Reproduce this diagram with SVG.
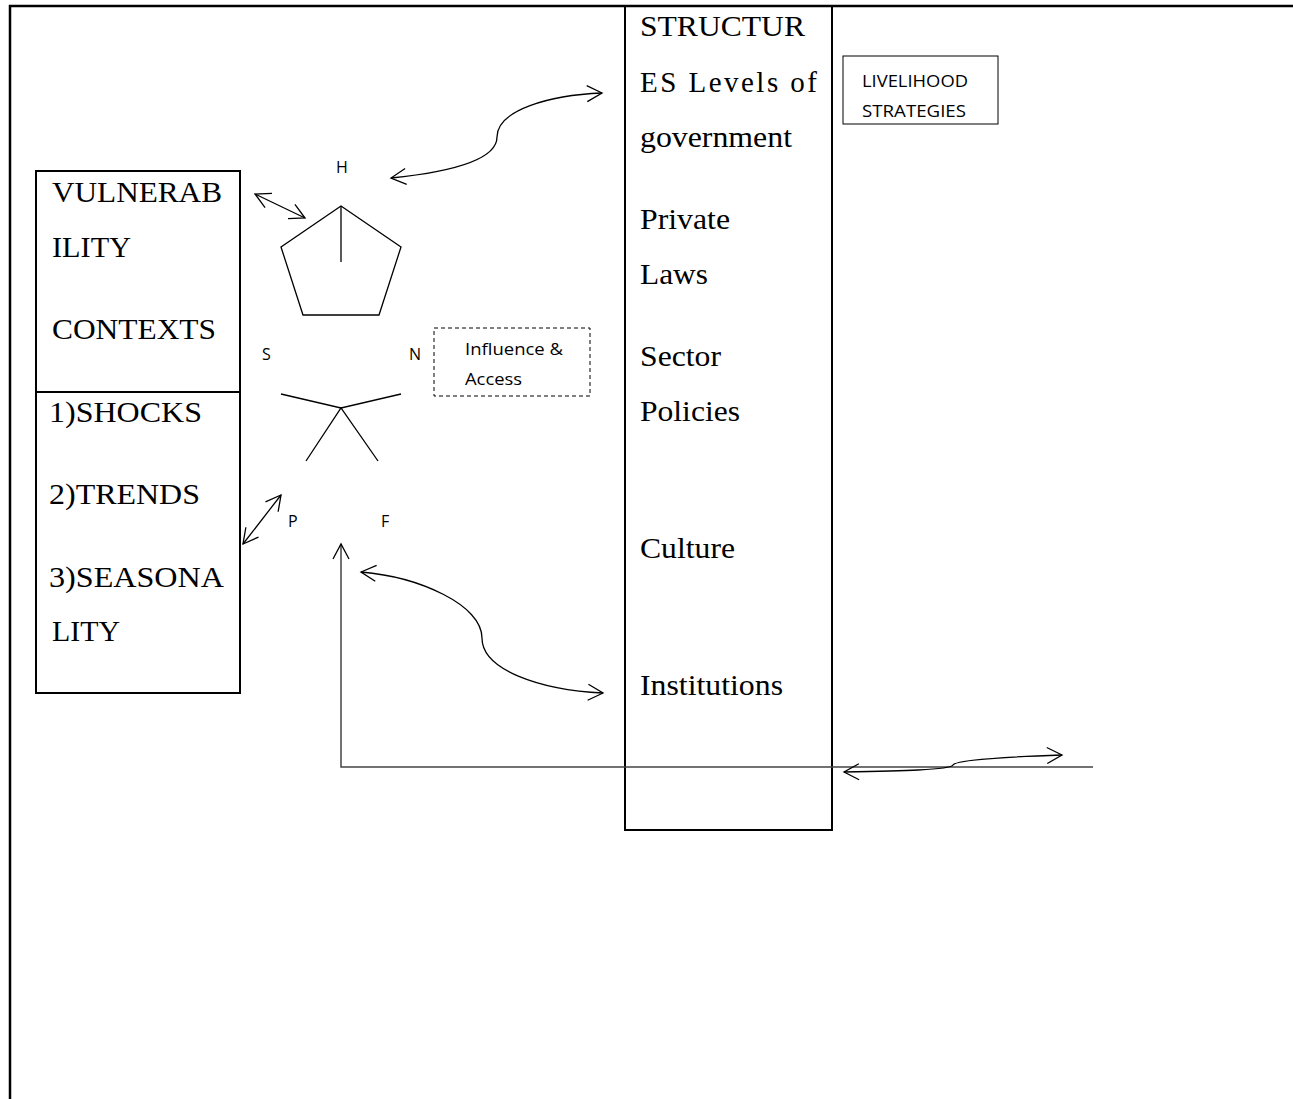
<svg xmlns="http://www.w3.org/2000/svg" width="1293" height="1099" viewBox="0 0 1293 1099">
<style>
.serif{font-family:"Liberation Serif","Times New Roman",serif;font-size:29px;fill:#000}
.sans{font-family:"Open Sans","Liberation Sans",sans-serif;font-size:17px;fill:#000}
.lbl{font-family:"Open Sans","Liberation Sans",sans-serif;font-size:16px;fill:#000}
.box{fill:none;stroke:#000;stroke-width:2}
.thin{fill:none;stroke:#000;stroke-width:1.3}
.conn{fill:none;stroke:#000;stroke-width:1.3}
</style>
<defs>
<marker id="ah" markerUnits="userSpaceOnUse" markerWidth="20" markerHeight="20" refX="16" refY="10" orient="auto-start-reverse" viewBox="0 0 20 20">
<path d="M1,2 L16,10 L1,18" fill="none" stroke="#000" stroke-width="1.3"/>
</marker>
</defs>
<rect width="1293" height="1099" fill="#fff"/>
<g id="frame">
<path d="M10,1099 L10,6 L1293,6" fill="none" stroke="#000" stroke-width="2.5"/>
</g>
<g id="vulnerability">
<rect class="box" x="36" y="171" width="204" height="522"/>
<line x1="36" y1="392" x2="240" y2="392" stroke="#000" stroke-width="2"/>
<text class="serif" x="52" y="202" textLength="170" lengthAdjust="spacingAndGlyphs">VULNERAB</text>
<text class="serif" x="52" y="257" textLength="79" lengthAdjust="spacingAndGlyphs">ILITY</text>
<text class="serif" x="52" y="339" textLength="164" lengthAdjust="spacingAndGlyphs">CONTEXTS</text>
<text class="serif" x="49" y="422" textLength="153" lengthAdjust="spacingAndGlyphs">1)SHOCKS</text>
<text class="serif" x="49" y="504" textLength="151" lengthAdjust="spacingAndGlyphs">2)TRENDS</text>
<text class="serif" x="49" y="587" textLength="175" lengthAdjust="spacingAndGlyphs">3)SEASONA</text>
<text class="serif" x="52" y="641" textLength="68" lengthAdjust="spacingAndGlyphs">LITY</text>
</g>
<g id="structures">
<rect class="box" x="625" y="6" width="207" height="824"/>
<text class="serif" x="640" y="36" textLength="165" lengthAdjust="spacingAndGlyphs">STRUCTUR</text>
<text class="serif" x="640" y="92" textLength="177" lengthAdjust="spacing">ES Levels of</text>
<text class="serif" x="640" y="147" textLength="152" lengthAdjust="spacingAndGlyphs">government</text>
<text class="serif" x="640" y="229" textLength="90" lengthAdjust="spacingAndGlyphs">Private</text>
<text class="serif" x="640" y="284" textLength="68" lengthAdjust="spacingAndGlyphs">Laws</text>
<text class="serif" x="640" y="366" textLength="81" lengthAdjust="spacingAndGlyphs">Sector</text>
<text class="serif" x="640" y="421" textLength="100" lengthAdjust="spacingAndGlyphs">Policies</text>
<text class="serif" x="640" y="558" textLength="95" lengthAdjust="spacingAndGlyphs">Culture</text>
<text class="serif" x="640" y="695" textLength="143" lengthAdjust="spacingAndGlyphs">Institutions</text>
</g>
<g id="livelihood">
<rect x="843" y="56" width="155" height="68" fill="none" stroke="#000" stroke-width="1"/>
<text class="sans" x="862" y="87" textLength="106" lengthAdjust="spacingAndGlyphs">LIVELIHOOD</text>
<text class="sans" x="862" y="117" textLength="104" lengthAdjust="spacingAndGlyphs">STRATEGIES</text>
</g>
<g id="influence">
<rect x="434" y="328" width="156" height="68" fill="none" stroke="#000" stroke-width="1" stroke-dasharray="4,3"/>
<text class="sans" x="465" y="355" textLength="98" lengthAdjust="spacingAndGlyphs">Influence &amp;</text>
<text class="sans" x="465" y="385" textLength="57" lengthAdjust="spacingAndGlyphs">Access</text>
</g>
<g id="assets">
<polygon class="thin" points="341,206 401,247 379,315 303,315 281,247"/>
<line class="thin" x1="341" y1="206" x2="341" y2="262"/>
<path class="thin" d="M281,394 L341,408 L401,394 M306,461 L341,408 L378,461"/>
<text class="lbl" x="336" y="173">H</text>
<text class="lbl" x="262" y="360">S</text>
<text class="lbl" x="409" y="360">N</text>
<text class="lbl" x="288" y="527">P</text>
<text class="lbl" x="381" y="527">F</text>
</g>
<g id="connectors">
<path class="conn" d="M391,178 C450,172 497,160 497,137 C497,110 550,95 602,93" marker-start="url(#ah)" marker-end="url(#ah)"/>
<line class="conn" x1="255" y1="194" x2="305" y2="218" marker-start="url(#ah)" marker-end="url(#ah)"/>
<line class="conn" x1="243" y1="544" x2="281" y2="495" marker-start="url(#ah)" marker-end="url(#ah)"/>
<path class="conn" d="M361,572 C420,577 482,605 482,638 C482,670 540,690 603,693" marker-start="url(#ah)" marker-end="url(#ah)"/>
<path d="M1093,767 L341,767 L341,544" fill="none" stroke="#444" stroke-width="1.5" marker-end="url(#ah)"/>
<path class="conn" d="M844,772 C900,771 950,770 953,765 C956,760 1000,757 1062,755" marker-start="url(#ah)" marker-end="url(#ah)"/>
</g>
</svg>
